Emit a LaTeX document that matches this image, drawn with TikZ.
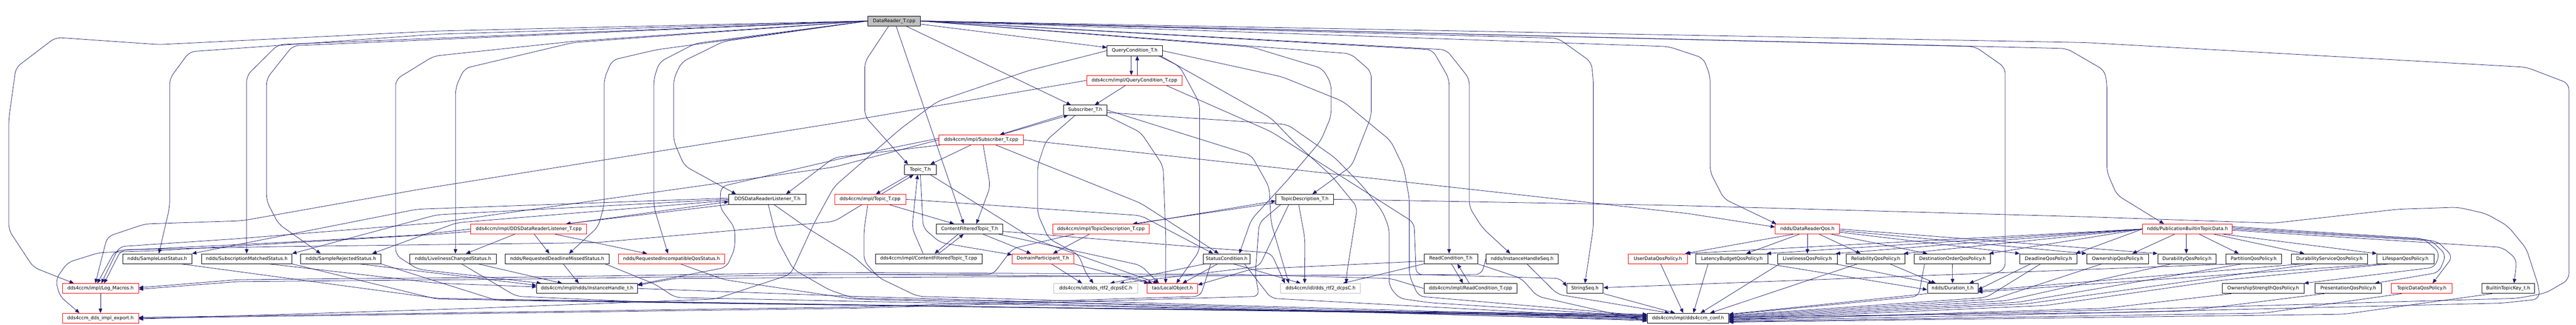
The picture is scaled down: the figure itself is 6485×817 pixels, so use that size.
\documentclass[tikz,border=0pt]{standalone}
\usepackage{fontspec}
\usetikzlibrary{arrows.meta}
\newfontfamily\grfont{DejaVu Sans}
\definecolor{edgec}{HTML}{191970}
\definecolor{graybd}{HTML}{BFBFBF}
\pgfdeclarelayer{back}
\pgfdeclarelayer{edges}
\pgfsetlayers{back,edges,main}
\tikzset{
 nb/.style={draw=black, fill=white, line width=1pt, rectangle, minimum height=25pt, inner sep=0pt, font=\grfont\fontsize{11.8}{14}\selectfont, text=black},
 nr/.style={nb, draw=red},
 ng/.style={nb, draw=graybd},
 nroot/.style={nb, fill=graybd},
 ed/.style={draw=edgec, line width=1pt, -{Triangle[length=11pt,width=9pt]}, rounded corners=15pt},
}
\newcommand\gnode[6]{\node[#5,minimum width={(#3-#2)*1pt}] (#1) at ({(#2+#3)/2},{52.7+74.73*#4}) {#6};}
\begin{document}
\begin{tikzpicture}[x=1pt,y=-1pt]
\begin{pgfonlayer}{back}
\fill[white] (0,0) rectangle (6485,817);
\end{pgfonlayer}
\useasboundingbox (0,0) rectangle (6485,817);
% ---------------- nodes ----------------
\gnode{R}{2185}{2317}{0}{nroot}{DataReader\_T.cpp}
\gnode{QCh}{2787}{2926}{1}{nb}{QueryCondition\_T.h}
\gnode{QCc}{2736}{2976}{2}{nr}{dds4ccm/impl/QueryCondition\_T.cpp}
\gnode{Subh}{2677}{2787}{3}{nb}{Subscriber\_T.h}
\gnode{Subc}{2364}{2576}{4}{nr}{dds4ccm/impl/Subscriber\_T.cpp}
\gnode{Toph}{2277}{2357}{5}{nb}{Topic\_T.h}
\gnode{DDSLh}{1835}{2029}{6}{nb}{DDSDataReaderListener\_T.h}
\gnode{Topc}{2101}{2280}{6}{nr}{dds4ccm/impl/Topic\_T.cpp}
\gnode{TDh}{3212}{3357}{6}{nb}{TopicDescription\_T.h}
\gnode{DDSLc}{1185}{1477}{7}{nr}{dds4ccm/impl/DDSDataReaderListener\_T.cpp}
\gnode{CFTh}{2357}{2525}{7}{nb}{ContentFilteredTopic\_T.h}
\gnode{TDc}{2650}{2893}{7}{nr}{dds4ccm/impl/TopicDescription\_T.cpp}
\gnode{DRQ}{4469}{4631}{7}{nr}{ndds/DataReaderQos.h}
\gnode{PBTD}{5394}{5619}{7}{nr}{ndds/PublicationBuiltinTopicData.h}
\gnode{SLS}{309}{483}{8}{nb}{ndds/SampleLostStatus.h}
\gnode{SMS}{507}{735}{8}{nb}{ndds/SubscriptionMatchedStatus.h}
\gnode{SRS}{757}{959}{8}{nb}{ndds/SampleRejectedStatus.h}
\gnode{LCS}{1032}{1249}{8}{nb}{ndds/LivelinessChangedStatus.h}
\gnode{RDMS}{1272}{1533}{8}{nb}{ndds/RequestedDeadlineMissedStatus.h}
\gnode{RIQS}{1557}{1824}{8}{nr}{ndds/RequestedIncompatibleQosStatus.h}
\gnode{CFTc}{2204}{2472}{8}{nb}{dds4ccm/impl/ContentFilteredTopic\_T.cpp}
\gnode{DP}{2548}{2703}{8}{nr}{DomainParticipant\_T.h}
\gnode{SC}{3029}{3147}{8}{nb}{StatusCondition.h}
\gnode{RCh}{3585}{3720}{8}{nb}{ReadCondition\_T.h}
\gnode{IHS}{3741}{3923}{8}{nb}{ndds/InstanceHandleSeq.h}
\gnode{UDQ}{4099}{4248}{8}{nr}{UserDataQosPolicy.h}
\gnode{LBQ}{4269}{4451}{8}{nb}{LatencyBudgetQosPolicy.h}
\gnode{LQ}{4475}{4625}{8}{nb}{LivelinessQosPolicy.h}
\gnode{RQ}{4648}{4796}{8}{nb}{ReliabilityQosPolicy.h}
\gnode{DOQ}{4819}{5011}{8}{nb}{DestinationOrderQosPolicy.h}
\gnode{DQ}{5085}{5229}{8}{nb}{DeadlineQosPolicy.h}
\gnode{OQ}{5253}{5409}{8}{nb}{OwnershipQosPolicy.h}
\gnode{DuQ}{5432}{5579}{8}{nb}{DurabilityQosPolicy.h}
\gnode{PQ}{5603}{5744}{8}{nb}{PartitionQosPolicy.h}
\gnode{DSQ}{5768}{5960}{8}{nb}{DurabilityServiceQosPolicy.h}
\gnode{LsQ}{5984}{6127}{8}{nb}{LifespanQosPolicy.h}
\gnode{LM}{157}{349}{9}{nr}{dds4ccm/impl/Log\_Macros.h}
\gnode{IH}{1351}{1605}{9}{nb}{dds4ccm/impl/ndds/InstanceHandle\_t.h}
\gnode{EC}{2653}{2864}{9}{ng}{dds4ccm/idl/dds\_rtf2\_dcpsEC.h}
\gnode{LO}{2888}{3015}{9}{nr}{tao/LocalObject.h}
\gnode{DC}{3224}{3425}{9}{ng}{dds4ccm/idl/dds\_rtf2\_dcpsC.h}
\gnode{RCc}{3585}{3819}{9}{nb}{dds4ccm/impl/ReadCondition\_T.cpp}
\gnode{SS}{3944}{4036}{9}{nb}{StringSeq.h}
\gnode{Dur}{4852}{4979}{9}{nb}{ndds/Duration\_t.h}
\gnode{OSQ}{5595}{5800}{9}{nb}{OwnershipStrengthQosPolicy.h}
\gnode{PrQ}{5828}{5995}{9}{nb}{PresentationQosPolicy.h}
\gnode{TDQ}{6020}{6173}{9}{nr}{TopicDataQosPolicy.h}
\gnode{BTK}{6248}{6380}{9}{nb}{BuiltinTopicKey\_t.h}
\gnode{EX}{157}{349}{10}{nr}{dds4ccm\_dds\_impl\_export.h}
\gnode{CONF}{4147}{4352}{10}{nb}{dds4ccm/impl/dds4ccm\_conf.h}
% ---------------- edges ----------------
\begin{pgfonlayer}{edges}
% root, to the left
\draw[ed] (R.west) -- (1100,78) -- (400,112) -- (140,94) -- (40,170) -- (22,300) -- (22,578) -- (84,672) -- ([xshift=-67pt]LM.north);
\draw[ed] (R.west) -- (1100,86) -- (477,130) -- (427,198) -- (427,521) -- ([xshift=4pt]SLS.north);
\draw[ed] (R.west) -- (700,112) -- (621,190) -- (SMS.north);
\draw[ed] (R.west) -- (737,115) -- (671,198) -- (671,505) -- (701,563) -- ([xshift=-51pt]SRS.north);
\draw[ed] (R.west) -- (1443,104) -- (1092,141) -- (996,200) -- (996,641) -- (1052,677) -- ([xshift=12pt]IH.north west);
\draw[ed] (R.west) -- (1443,107) -- (1169,172) -- (1147,220) -- (1147,600) -- ([xshift=6pt]LCS.north);
\draw[ed] (R.west) -- (1653,125) -- (1541,151) -- (1521,198) -- (1521,515) -- (1506,570) -- ([xshift=30pt]RDMS.north);
\draw[ed] (R.west) -- (1751,109) -- (1660,156) -- (1646,198) -- (1646,520) -- ([xshift=-9pt]RIQS.north);
\draw[ed] (R.west) -- (1822,104) -- (1716,156) -- (1696,198) -- (1696,355) -- (1723,417) -- ([xshift=-79pt]DDSLh.north);
% root, down and to the right
\draw[ed] ([yshift=-8pt]R.east) -- ([yshift=8pt]QCh.west);
\draw[ed] ([xshift=30pt]R.south) -- ([xshift=-36pt]Subh.north);
\draw[ed] ([xshift=-14pt]R.south) -- (2177,156) -- (2177,292) -- ([xshift=-31pt]Toph.north);
\draw[ed] ([xshift=5pt]R.south) -- ([xshift=-15pt]CFTh.north);
\draw[ed] (R.east) -- (3150,118) -- (3329,172) -- (3351,210) -- (3351,292) -- (3325,354) -- (3241,453) -- (3150,552) -- ([xshift=32pt]SC.north);
\draw[ed] (R.east) -- (3400,135) -- (3452,180) -- (3452,292) -- (3403,417) -- ([xshift=19.5pt]TDh.north);
\draw[ed] (R.east) -- (3606,125) -- (3648,198) -- ([xshift=-4.5pt]RCh.north);
\draw[ed] (R.east) -- (3641,125) -- (3699,198) -- (3699,521) -- (3732,573) -- ([xshift=-30pt]IHS.north);
\draw[ed] (R.east) -- (3922,96) -- (4006,156) -- (4011,200) -- (4011,573) -- (SS.north);
\draw[ed] (R.east) -- (4200,117) -- (4288,146) -- (4305,190) -- (4305,432) -- (4340,500) -- ([xshift=3pt]DRQ.north west);
\draw[ed] (R.east) -- (4972,117) -- (5048,170) -- (5048,677) -- ([xshift=42pt]Dur.north);
\draw[ed] (R.east) -- (5203,122) -- (5298,177) -- (5304,210) -- (5304,432) -- (5329,490) -- ([xshift=-59pt]PBTD.north);
\draw[ed] (R.east) -- (5250,107) -- (6360,169) -- (6467,210) -- (6467,703) -- (6408,737) -- (6337,750) -- (5250,781) -- ([yshift=-3pt]CONF.east);
% QueryCondition
\draw[ed] ([xshift=-8.5pt]QCh.south) -- ([xshift=-8pt]QCc.north);
\draw[ed] ([xshift=7pt]QCc.north) -- ([xshift=6.5pt]QCh.south);
\draw[ed] (QCh.west) -- (2591,177) -- (2360,255) -- (2268,323) -- (2100,469) -- (2050,560) -- (1990,690) -- (1800,752) -- (1200,775) -- ([yshift=-2pt]EX.east);
\draw[ed] ([xshift=60pt]QCh.south) -- (2970,167) -- (3020,260) -- (3020,630) -- ([xshift=10pt]LO.north);
\draw[ed] (QCh.east) -- (3227,193) -- (3381,255) -- (3501,354) -- (3534,422) -- (3548,500) -- (3548,693) -- (3571,745) -- ([yshift=6pt]CONF.west);
\draw[ed] ([xshift=-5pt]QCh.south east) -- (3200,297) -- (3255,354) -- (3353,443) -- (3417,521) -- (3390,690) -- ([xshift=65pt]DC.north);
\draw[ed] ([xshift=-23pt]QCc.south) -- ([xshift=24pt]Subh.north);
\draw[ed] (QCc.west) -- (2100,310) -- (1050,477) -- (610,555) -- (365,563) -- (270,595) -- ([xshift=-13pt]LM.north);
\draw[ed] ([xshift=-40pt]QCc.south east) -- (3200,331) -- (3560,560) -- (3565,690) -- (3930,700) -- ([yshift=5pt]SS.west);
% Subscriber
\draw[ed] ([xshift=-57pt]Subh.south) -- ([xshift=47pt]Subc.north);
\draw[ed] ([xshift=51pt]Subc.north) -- ([xshift=-43pt]Subh.south);
\draw[ed] ([xshift=-25pt]Subh.south) -- (2633,354) -- (2612,417) -- (2612,537) -- (2640,600) -- (2715,640) -- (2735,690) -- ([xshift=-6pt]EC.north);
\draw[ed] ([xshift=52pt]Subh.south) -- (2872,333) -- (2928,417) -- (2935,600) -- ([xshift=-17pt]LO.north);
\draw[ed] (Subh.east) -- (3150,390) -- (3195,470) -- (3200,560) -- ([xshift=-80pt]DC.north);
\draw[ed] ([yshift=-6pt]Subh.east) -- (3241,313) -- (3360,396) -- (3431,469) -- (3480,531) -- (3497,573) -- (3497,719) -- (3522,750) -- (3599,761) -- ([yshift=4pt]CONF.west);
\draw[ed] ([xshift=-26pt]Subc.south) -- ([xshift=25pt]Toph.north);
\draw[ed] ([xshift=5pt]Subc.south) -- (2493,469) -- ([xshift=17pt]CFTh.north);
\draw[ed] ([xshift=37pt]Subc.south) -- (2872,511) -- ([xshift=-20pt]SC.north);
\draw[ed] (Subc.east) -- (3200,420) -- (4250,537) -- ([yshift=5pt]DRQ.west);
\draw[ed] ([xshift=-103pt]Subc.south) -- (2100,396) -- ([xshift=47pt]DDSLh.north);
\draw[ed] (Subc.west) -- (2100,420) -- (1100,560) -- (600,600) -- (300,620) -- ([xshift=2pt]LM.north);
\draw[ed] ([yshift=4pt]Subc.west) -- (2150,391) -- (1815,469) -- (1812,521) -- (1850,573) -- (1850,625) -- (1829,672) -- ([yshift=10pt]IH.east);
% Topic
\draw[ed] ([xshift=-28pt]Toph.south) -- ([xshift=14.5pt]Topc.north);
\draw[ed] ([xshift=28.5pt]Topc.north) -- ([xshift=-17pt]Toph.south);
\draw[ed] (Toph.south) -- (2324,573) -- (2367,610) -- ([yshift=10pt]DP.west);
\draw[ed] ([xshift=25pt]Toph.south) -- (2600,600) -- ([xshift=-37pt]LO.north);
\draw[ed] ([xshift=-14pt]CFTc.north) -- (2296,573) -- ([xshift=-7pt]Toph.south);
\draw[ed] ([xshift=46.5pt]Topc.south) -- ([xshift=-39pt]CFTh.north);
\draw[ed] (Topc.east) -- (2872,542) -- ([xshift=-34pt]SC.north);
\draw[ed] ([xshift=-20pt]Topc.south) -- (2100,557) -- (1500,610) -- (700,620) -- (305,628) -- ([xshift=9pt]LM.north);
\draw[ed] ([xshift=-6pt]Topc.south) -- (2175,580) -- (2175,656) -- (2212,698) -- (2310,745) -- (3000,765) -- ([yshift=2pt]CONF.west);
% ContentFilteredTopic
\draw[ed] ([xshift=-29pt]CFTh.south) -- ([xshift=15pt]CFTc.north);
\draw[ed] ([xshift=25pt]CFTc.north) -- ([xshift=-15pt]CFTh.south);
\draw[ed] ([xshift=34pt]CFTh.south) -- ([xshift=-30pt]DP.north);
\draw[ed] ([xshift=73pt]CFTh.south) -- (2872,667) -- ([xshift=-34pt]LO.north);
\draw[ed] ([yshift=-6pt]CFTh.east) -- (3200,636) -- ([xshift=-90pt]DC.north);
% TopicDescription
\draw[ed] ([xshift=-29pt]TDc.south) -- ([xshift=25.5pt]DP.north);
\draw[ed] ([xshift=90pt]TDc.north) -- ([yshift=-4pt]TDh.west);
\draw[ed] ([yshift=-9pt]TDh.west) -- ([xshift=80pt]TDc.north);
\draw[ed] ([xshift=-68pt]TDc.south) -- (2549,625) -- (2500,690) -- (2100,690) -- (1300,702) -- (600,708) -- ([yshift=-2pt]LM.east);
\draw[ed] ([xshift=-40pt]TDh.south) -- (3170,670) -- ([xshift=60pt]EC.north);
\draw[ed] ([xshift=-15pt]TDh.south) -- (3285,600) -- ([xshift=-40pt]DC.north);
\draw[ed] ([xshift=-60pt]TDh.south) -- (3170,560) -- (3160,690) -- (3170,745) -- (2150,775) -- (EX.east);
\draw[ed] (TDh.east) -- (4200,516) -- (5250,545) -- (5723,561) -- (6038,526) -- (6187,521) -- (6258,537) -- (6313,568) -- (6360,625) -- (6392,724) -- (6392,752) -- (6300,762) -- (5300,786) -- ([yshift=3pt]CONF.east);
% ReadCondition
\draw[ed] ([xshift=1.5pt]RCh.south) -- ([xshift=-19pt]RCc.north);
\draw[ed] ([xshift=-3pt]RCc.north) -- ([xshift=16.5pt]RCh.south);
\draw[ed] (RCh.south west) -- ([xshift=56pt]DC.north);
\draw[ed] ([yshift=-6pt]RCh.west) -- (3150,677) -- ([yshift=9pt]LO.east);
\draw[ed] (RCh.south east) -- (3830,700) -- (3870,745) -- ([yshift=-8pt]CONF.west);
\draw[ed] (RCc.west) -- (3500,700) -- (3100,690) -- (2100,685) -- (1300,697) -- (600,703) -- ([yshift=2pt]LM.east);
% DDSDataReaderListener
\draw[ed] (DDSLh.south west) -- ([xshift=94pt]DDSLc.north);
\draw[ed] ([xshift=98pt]DDSLc.north) -- ([yshift=-6pt]DDSLh.west);
\draw[ed] ([yshift=3pt]DDSLh.west) -- (1050,526) -- (SLS.north east);
\draw[ed] (DDSLh.west) -- (1100,540) -- (SMS.north east);
\draw[ed] ([yshift=-3pt]DDSLh.west) -- (1150,560) -- ([xshift=79pt]SRS.north);
\draw[ed] ([xshift=16pt]DDSLh.south) -- (2032,573) -- (2150,646) -- (2200,690) -- (2840,695) -- ([xshift=-50pt]LO.north);
\draw[ed] ([xshift=2pt]DDSLh.south) -- (1955,599) -- (1997,677) -- (2088,729) -- (2150,750) -- (3000,768) -- ([yshift=-2pt]CONF.west);
\draw[ed] ([xshift=-35pt]DDSLc.south) -- ([xshift=32.5pt]LCS.north);
\draw[ed] ([xshift=14pt]DDSLc.south) -- ([xshift=-19.5pt]RDMS.north);
\draw[ed] ([xshift=66pt]DDSLc.south) -- ([xshift=-61.5pt]RIQS.north);
\draw[ed] (DDSLc.west) -- (1050,591) -- (700,610) -- (290,630) -- ([xshift=-8pt]LM.north);
\draw[ed] ([yshift=-6pt]DDSLc.west) -- (1100,589) -- (400,630) -- (250,635) -- (170,660) -- (140,703) -- (150,744) -- ([xshift=-53pt]EX.north);
% status convertors
\draw[ed] ([xshift=60pt]SLS.south) -- (1100,750) -- (2500,772) -- ([yshift=10pt]CONF.west);
\draw[ed] ([xshift=56pt]SMS.south) -- (1100,712) -- ([yshift=4pt]IH.west);
\draw[ed] (SMS.south east) -- (1100,752) -- (2600,773) -- ([yshift=8pt]CONF.west);
\draw[ed] ([xshift=47pt]SRS.south) -- ([yshift=8pt]IH.west);
\draw[ed] (SRS.south east) -- (1250,755) -- (2700,775) -- ([yshift=6pt]CONF.west);
\draw[ed] ([xshift=63.5pt]LCS.south) -- ([xshift=-63pt]IH.north);
\draw[ed] ([xshift=21.5pt]LCS.south) -- (1300,745) -- (1600,758) -- ([yshift=4pt]CONF.west);
\draw[ed] ([xshift=15.5pt]RDMS.south) -- ([xshift=-21pt]IH.north);
\draw[ed] ([xshift=-10pt]RDMS.south east) -- (1650,715) -- (1700,748) -- ([yshift=1pt]CONF.west);
\draw[ed] ([xshift=22.5pt]RIQS.south) -- (1822,703) -- (2150,752) -- ([yshift=-4pt]CONF.west);
\draw[ed] (IH.east) -- (2150,745) -- ([yshift=-6pt]CONF.west);
\draw[ed] (LM.south) -- (EX.north);
% StatusCondition, DomainParticipant
\draw[ed] ([xshift=-55pt]SC.south) -- ([xshift=36pt]EC.north);
\draw[ed] ([xshift=-23pt]SC.south) -- ([xshift=25.5pt]LO.north);
\draw[ed] ([xshift=17pt]SC.south) -- ([xshift=-50pt]DC.north);
\draw[ed] ([xshift=45pt]SC.south) -- (3200,750) -- ([yshift=-1pt]CONF.west);
\draw[ed] ([xshift=-40pt]SC.south) -- (3022,745) -- (2150,772) -- ([yshift=2pt]EX.east);
\draw[ed] ([xshift=21.5pt]DP.south) -- ([xshift=-34.5pt]EC.north);
\draw[ed] (DP.south east) -- ([xshift=-60pt]LO.north);
% sequences
\draw[ed] ([xshift=12pt]IHS.south) -- (3921,740) -- ([xshift=-47pt]CONF.north);
\draw[ed] (IHS.west) -- (3730,690) -- (1700,700) -- ([yshift=8pt]IH.east);
\draw[ed] ([xshift=47pt]SS.south) -- ([xshift=-33pt]CONF.north);
% DataReaderQos
\draw[ed] ([xshift=-35pt]DRQ.south) -- ([xshift=68.5pt]UDQ.north);
\draw[ed] ([xshift=-20pt]DRQ.south) -- ([xshift=36pt]LBQ.north);
\draw[ed] (DRQ.south) -- (LQ.north);
\draw[ed] ([xshift=30pt]DRQ.south) -- ([xshift=-38pt]RQ.north);
\draw[ed] ([xshift=60pt]DRQ.south) -- ([xshift=-63pt]DOQ.north);
\draw[ed] ([yshift=-8pt]DRQ.east) -- (DQ.north west);
\draw[ed] ([yshift=-4pt]DRQ.east) -- (OQ.north west);
\draw[ed] (DRQ.east) -- (DuQ.north west);
% PublicationBuiltinTopicData
\draw[ed] (PBTD.west) -- ([xshift=-4pt]UDQ.north east);
\draw[ed] (PBTD.west) -- ([xshift=-4pt]LBQ.north east);
\draw[ed] (PBTD.west) -- ([xshift=-4pt]LQ.north east);
\draw[ed] (PBTD.west) -- ([xshift=-4pt]RQ.north east);
\draw[ed] (PBTD.west) -- ([xshift=-4pt]DOQ.north east);
\draw[ed] (PBTD.west) -- ([xshift=-4pt]DQ.north east);
\draw[ed] ([xshift=-32pt]PBTD.south) -- ([xshift=37pt]OQ.north);
\draw[ed] ([xshift=-2.5pt]PBTD.south) -- ([xshift=-1.5pt]DuQ.north);
\draw[ed] ([xshift=30pt]PBTD.south) -- ([xshift=-37.5pt]PQ.north);
\draw[ed] ([xshift=67pt]PBTD.south) -- ([xshift=-63pt]DSQ.north);
\draw[ed] ([xshift=90pt]PBTD.south) -- (LsQ.north west);
\draw[ed] ([yshift=6pt]PBTD.east) -- (6101,600) -- (6142,635) -- (6130,672) -- (OSQ.north east);
\draw[ed] ([yshift=3pt]PBTD.east) -- (6118,603) -- (6158,640) -- (6140,685) -- ([xshift=67pt]PrQ.north);
\draw[ed] (PBTD.east) -- (6135,606) -- (6175,645) -- ([xshift=27.5pt]TDQ.north);
\draw[ed] ([yshift=-3pt]PBTD.east) -- (6300,622) -- (6336,652) -- ([xshift=15pt]BTK.north);
% policies -> Duration_t
\draw[ed] (LBQ.south east) -- ([yshift=-3pt]Dur.west);
\draw[ed] ([xshift=71pt]LQ.south) -- ([xshift=-49.5pt]Dur.north);
\draw[ed] ([xshift=36pt]RQ.south) -- ([xshift=-42.5pt]Dur.north);
\draw[ed] (DOQ.south) -- (Dur.north);
\draw[ed] ([xshift=-45pt]DQ.south) -- ([yshift=-3pt]Dur.east);
\draw[ed] ([xshift=-70pt]DSQ.south) -- ([yshift=-6pt]Dur.east);
\draw[ed] ([xshift=-60pt]LsQ.south) -- ([yshift=-9pt]Dur.east);
% policies -> dds4ccm_conf.h
\draw[ed] ([xshift=7pt]UDQ.south) -- ([xshift=-12pt]CONF.north);
\draw[ed] ([xshift=-60pt]LBQ.south) -- ([xshift=13.5pt]CONF.north);
\draw[ed] ([xshift=-70pt]LQ.south) -- ([xshift=31.5pt]CONF.north);
\draw[ed] ([xshift=-46pt]RQ.south) -- ([xshift=55.5pt]CONF.north);
\draw[ed] ([xshift=-70pt]DOQ.south) -- (4830,745) -- ([yshift=9pt]CONF.east);
\draw[ed] ([xshift=-20pt]DQ.south) -- (5000,748) -- ([yshift=7pt]CONF.east);
\draw[ed] ([xshift=-40pt]OQ.south) -- (5020,752) -- ([yshift=5pt]CONF.east);
\draw[ed] ([xshift=-40pt]DuQ.south) -- (5050,756) -- ([yshift=3pt]CONF.east);
\draw[ed] ([xshift=-30pt]PQ.south) -- (5080,760) -- ([yshift=1pt]CONF.east);
\draw[ed] ([xshift=-50pt]PQ.south) -- ([yshift=2pt]SS.east);
\draw[ed] ([xshift=-40pt]DSQ.south) -- (5100,764) -- ([yshift=-1pt]CONF.east);
\draw[ed] ([xshift=-40pt]LsQ.south) -- (5590,705) -- (5150,768) -- ([yshift=-3pt]CONF.east);
\draw[ed] ([xshift=-80pt]OSQ.south) -- (5300,775) -- ([yshift=-5pt]CONF.east);
\draw[ed] ([xshift=-60pt]PrQ.south) -- (5500,782) -- ([yshift=-7pt]CONF.east);
\draw[ed] ([xshift=-50pt]TDQ.south) -- (5700,787) -- ([yshift=-9pt]CONF.east);
\draw[ed] ([xshift=-40pt]BTK.south) -- (5900,790) -- ([yshift=-10pt]CONF.east);
\draw[ed] (Dur.south west) -- ([yshift=10pt]CONF.east);
\end{pgfonlayer}
\end{tikzpicture}
\end{document}
